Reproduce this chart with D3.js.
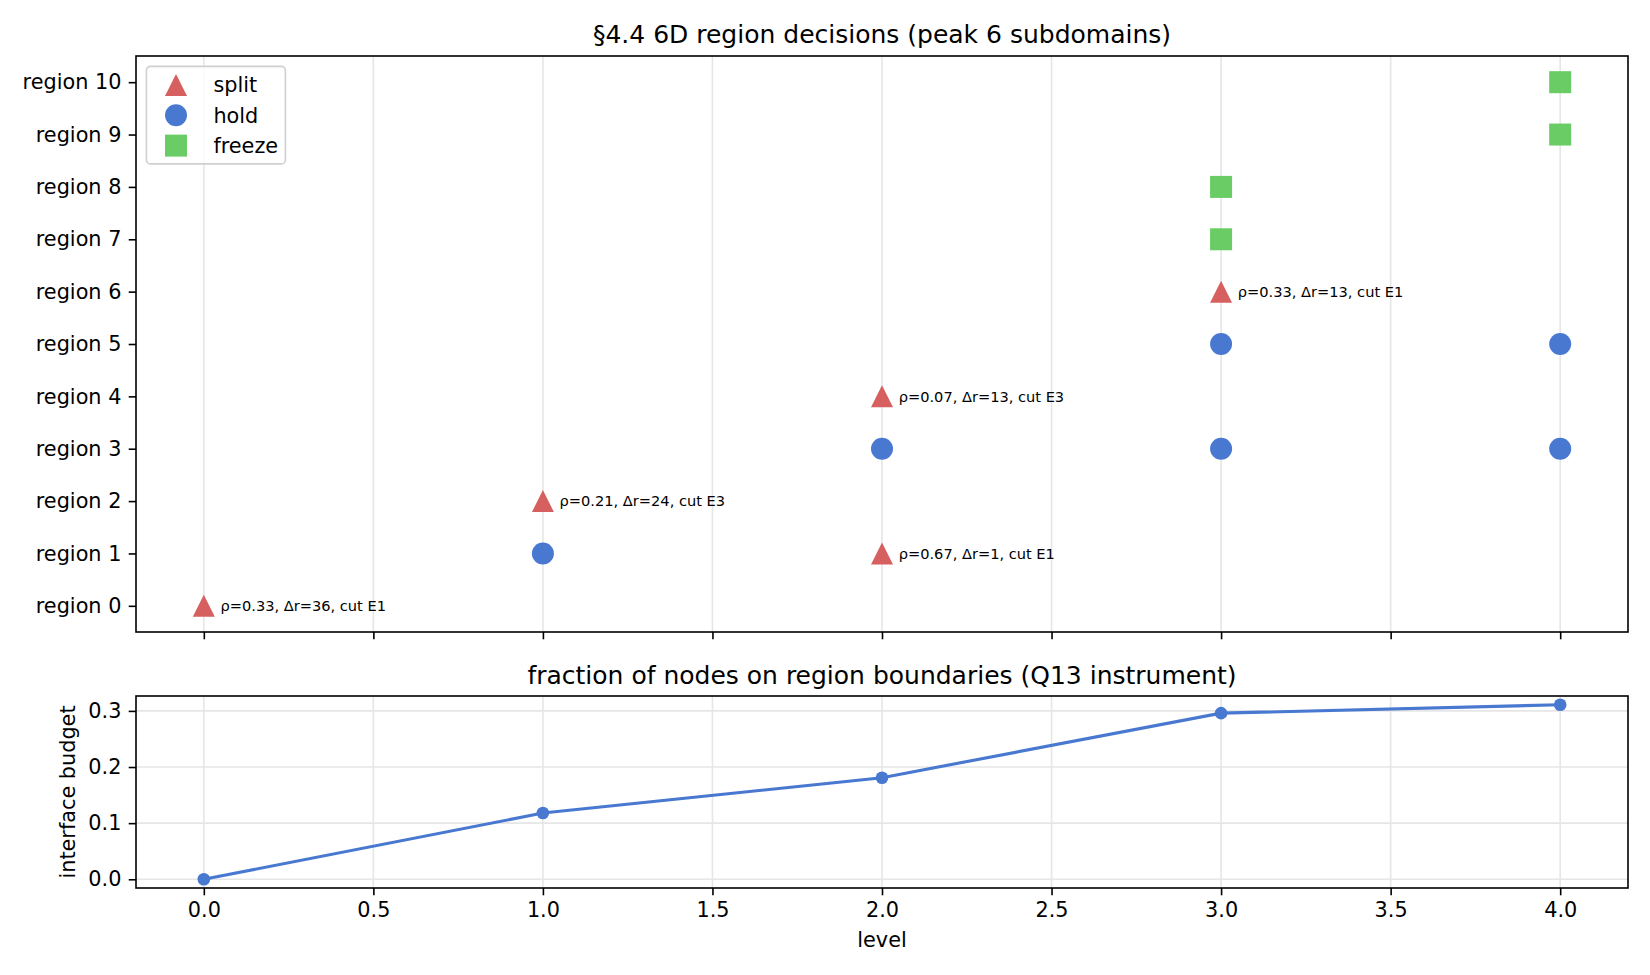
<!DOCTYPE html>
<html>
<head>
<meta charset="utf-8">
<script src="https://cdn.jsdelivr.net/npm/d3@7"></script>
<style>
  body { margin: 0; background: #fff; }
  svg text { font-family: "DejaVu Sans", sans-serif; fill: #000; }
</style>
</head>
<body>
<svg id="chart" width="1650" height="975"></svg>
<script>
// decisions per level and region
const splitLevels = [0, 1, 2, 2, 3];
const splitRegions = [0, 2, 1, 4, 6];
const splitNotes = ['ρ=0.33, Δr=36, cut E1', 'ρ=0.21, Δr=24, cut E3', 'ρ=0.67, Δr=1, cut E1',
                    'ρ=0.07, Δr=13, cut E3', 'ρ=0.33, Δr=13, cut E1'];
const holdLevels = [1, 2, 3, 3, 4, 4];
const holdRegions = [1, 3, 3, 5, 3, 5];
const freezeLevels = [3, 3, 4, 4];
const freezeRegions = [7, 8, 9, 10];
const regionLabels = d3.range(0, 11).map(i => 'region ' + i);

// interface budget per level
const levels = [0, 1, 2, 3, 4];
const budget = [0.0, 0.118, 0.181, 0.296, 0.311];

const xTicks = [0, 0.5, 1, 1.5, 2, 2.5, 3, 3.5, 4];
const budgetTicks = [0, 0.1, 0.2, 0.3];

const colors = {split: '#d65f5f', hold: '#4878d0', freeze: '#6acc64'};

const svg = d3.select('#chart');
const left = 136, right = 1628;
const top1 = 56, bottom1 = 632;
const top2 = 696, bottom2 = 888;
const tick = 7.3, fs = 20.8;

const x = d3.scaleLinear().domain([-0.2, 4.2]).range([left, right]);
const y = d3.scaleLinear().domain([-0.5, 10.5]).range([bottom1, top1]);
const [bmin, bmax] = d3.extent(budget);
const pad = (bmax - bmin) * 0.05;
const yb = d3.scaleLinear().domain([bmin - pad, bmax + pad]).range([bottom2, top2]);

const gridColor = '#e6e6e6';

function styleAxis(g) {
  g.selectAll('.domain').remove();
  g.selectAll('.tick line').attr('stroke', '#000').attr('stroke-width', 1.6);
  g.selectAll('.tick text').attr('font-size', fs).attr('fill', '#000');
}

// ---- top panel ----
const p1 = svg.append('g');
p1.append('g').selectAll('line').data(xTicks).enter().append('line')
    .attr('x1', d => x(d)).attr('x2', d => x(d))
    .attr('y1', top1).attr('y2', bottom1)
    .attr('stroke', gridColor).attr('stroke-width', 1.6);

p1.append('g')
    .attr('transform', `translate(0, ${bottom1})`)
    .call(d3.axisBottom(x).tickValues(xTicks).tickSize(tick).tickFormat(''))
    .call(styleAxis);
p1.append('g')
    .attr('transform', `translate(${left}, 0)`)
    .call(d3.axisLeft(y).tickValues(d3.range(0, 11)).tickSize(tick).tickPadding(7.3)
      .tickFormat(d => regionLabels[d]))
    .call(styleAxis);

const sym = d3.symbol();
const markerArea = 22 * 22;
function triPath(side) {
  const h = side / 2;
  return `M0,${-h}L${h},${h}L${-h},${h}Z`;
}

// hold
p1.append('g').selectAll('circle').data(holdLevels).enter().append('circle')
    .attr('cx', d => x(d)).attr('cy', (d, i) => y(holdRegions[i]))
    .attr('r', 11).attr('fill', colors.hold);
// freeze
p1.append('g').selectAll('rect').data(freezeLevels).enter().append('rect')
    .attr('x', d => x(d) - 11).attr('y', (d, i) => y(freezeRegions[i]) - 11)
    .attr('width', 22).attr('height', 22).attr('fill', colors.freeze);
// split
p1.append('g').selectAll('path').data(splitLevels).enter().append('path')
    .attr('transform', (d, i) => `translate(${x(d)}, ${y(splitRegions[i])})`)
    .attr('d', triPath(22)).attr('fill', colors.split);
p1.append('g').selectAll('text').data(splitLevels).enter().append('text')
    .attr('x', d => x(d) + 16.7).attr('y', (d, i) => y(splitRegions[i]))
    .attr('dy', '0.36em')
    .attr('font-size', 14.6)
    .text((d, i) => splitNotes[i]);

// legend
const leg = p1.append('g').attr('transform', `translate(${left + 10.4}, ${top1 + 10.4})`);
leg.append('rect').attr('width', 139).attr('height', 97.5).attr('rx', 4)
    .attr('fill', 'rgba(255,255,255,0.8)').attr('stroke', '#d0d0d0').attr('stroke-width', 1.6);
const legItems = ['split', 'hold', 'freeze'];
legItems.forEach((k, i) => {
  const cy = 18.6 + i * 30.3, cx = 29.6;
  if (k === 'split') leg.append('path').attr('transform', `translate(${cx}, ${cy})`).attr('d', triPath(22)).attr('fill', colors.split);
  if (k === 'hold') leg.append('circle').attr('cx', cx).attr('cy', cy).attr('r', 11).attr('fill', colors.hold);
  if (k === 'freeze') leg.append('rect').attr('x', cx - 11).attr('y', cy - 11).attr('width', 22).attr('height', 22).attr('fill', colors.freeze);
  leg.append('text').attr('x', 67).attr('y', cy).attr('dy', '0.36em').attr('font-size', fs).text(k);
});

p1.append('rect').attr('x', left).attr('y', top1).attr('width', right - left).attr('height', bottom1 - top1)
    .attr('fill', 'none').attr('stroke', '#000').attr('stroke-width', 1.6);
svg.append('text').attr('x', (left + right) / 2).attr('y', 43.3).attr('text-anchor', 'middle')
    .attr('font-size', 25).text('§4.4 6D region decisions (peak 6 subdomains)');

// ---- bottom panel ----
const p2 = svg.append('g');
p2.append('g').selectAll('line').data(xTicks).enter().append('line')
    .attr('x1', d => x(d)).attr('x2', d => x(d))
    .attr('y1', top2).attr('y2', bottom2)
    .attr('stroke', gridColor).attr('stroke-width', 1.6);
p2.append('g').selectAll('line').data(budgetTicks).enter().append('line')
    .attr('x1', left).attr('x2', right)
    .attr('y1', d => yb(d)).attr('y2', d => yb(d))
    .attr('stroke', gridColor).attr('stroke-width', 1.6);

p2.append('g')
    .attr('transform', `translate(0, ${bottom2})`)
    .call(d3.axisBottom(x).tickValues(xTicks).tickSize(tick).tickPadding(7.3).tickFormat(d3.format('.1f')))
    .call(styleAxis);
p2.append('g')
    .attr('transform', `translate(${left}, 0)`)
    .call(d3.axisLeft(yb).tickValues(budgetTicks).tickSize(tick).tickPadding(7.3).tickFormat(d3.format('.1f')))
    .call(styleAxis);

const line = d3.line().x((d, i) => x(levels[i])).y(d => yb(d));
p2.append('path').datum(budget)
    .attr('d', line).attr('fill', 'none').attr('stroke', colors.hold).attr('stroke-width', 3.1);
p2.append('g').selectAll('circle').data(budget).enter().append('circle')
    .attr('cx', (d, i) => x(levels[i])).attr('cy', d => yb(d))
    .attr('r', 6.3).attr('fill', colors.hold);

p2.append('rect').attr('x', left).attr('y', top2).attr('width', right - left).attr('height', bottom2 - top2)
    .attr('fill', 'none').attr('stroke', '#000').attr('stroke-width', 1.6);
svg.append('text').attr('x', (left + right) / 2).attr('y', 683.6).attr('text-anchor', 'middle')
    .attr('font-size', 25).text('fraction of nodes on region boundaries (Q13 instrument)');
svg.append('text').attr('x', (left + right) / 2).attr('y', 946.7).attr('text-anchor', 'middle')
    .attr('font-size', fs).text('level');
svg.append('text')
    .attr('transform', `translate(${68.4 + 7}, ${(top2 + bottom2) / 2}) rotate(-90)`)
    .attr('text-anchor', 'middle').attr('font-size', fs).text('interface budget');
</script>
</body>
</html>
